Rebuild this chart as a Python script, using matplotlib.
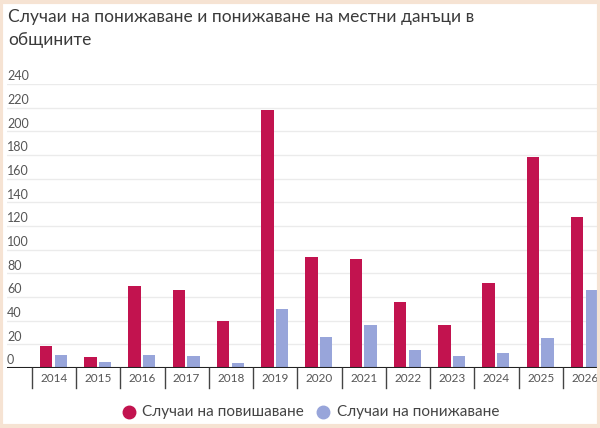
import matplotlib
matplotlib.use("Agg")
import matplotlib.pyplot as plt
from matplotlib.patches import Rectangle
import numpy as np

years = ["2014", "2015", "2016", "2017", "2018", "2019", "2020",
         "2021", "2022", "2023", "2024", "2025", "2026"]
increases = [19, 9, 69, 66, 40, 218, 94, 92, 56, 36, 72, 178, 128]
decreases = [11, 5, 11, 10, 4, 50, 26, 36, 15, 10, 13, 25, 66]
y_ticks = [0, 20, 40, 60, 80, 100, 120, 140, 160, 180, 200, 220, 240]
title_lines = ["Случаи на понижаване и понижаване на местни данъци в",
               "общините"]
label_inc = "Случаи на повишаване"
label_dec = "Случаи на понижаване"

RED = "#C2134F"
BLUE = "#98A5DA"
FONT = ["Lato", "DejaVu Sans"]

W, H = 600, 428
fig = plt.figure(figsize=(W / 100, H / 100), dpi=100)
fig.patch.set_facecolor("white")

# faint peach frame
fig.add_artist(Rectangle((0.002, 0.004), 0.996, 0.992, transform=fig.transFigure,
                         fill=False, edgecolor="#F6E3D3", linewidth=3))

# axes: x from 7px to 607px, y from 368px (0) to 84px (240)
left = 7 / W
width = 600 / W
bottom = (H - 368) / H
height = (368 - 84) / H
ax = fig.add_axes([left, bottom, width, height])
ax.set_facecolor("none")

x = np.arange(len(years))
bw = 0.28
ax.bar(x - 0.175, increases, width=bw, color=RED, zorder=3)
ax.bar(x + 0.155, decreases, width=bw, color=BLUE, zorder=3)

ax.set_xlim(-1.06, len(years) - 0.5)
ax.set_ylim(0, 240)

for t in y_ticks:
    if t > 0:
        ax.axhline(t, color="#EBEBEB", linewidth=1, zorder=1)
    ax.text(0.0, t + 1.5, str(t), transform=ax.get_yaxis_transform(),
            ha="left", va="bottom", fontsize=9, color="#555555",
            family=FONT)

ax.axhline(0, color="#222222", linewidth=1.5, zorder=4)

for s in ax.spines.values():
    s.set_visible(False)
ax.set_yticks([])
ax.set_xticks([])

# category dividers and labels
trans = ax.get_xaxis_transform()
for i in range(len(years) + 1):
    xb = i - 0.5
    ax.plot([xb, xb], [0, -20 / (368 - 84)], transform=trans, color="#444444",
            linewidth=1, clip_on=False, zorder=4)
for i, yr in enumerate(years):
    ax.text(i, -10 / (368 - 84), yr, transform=trans, ha="center", va="center",
            fontsize=8.5, color="#555555", family=FONT)

# title
for line, yc in zip(title_lines, [17, 40]):
    fig.text(8 / W, 1 - yc / H, line, ha="left", va="center", fontsize=12.5,
             color="#3A3A3A", family=FONT)

# legend
ly = 1 - 412 / H
fig.add_artist(plt.Line2D([129 / W], [ly], marker="o", markersize=9,
                          color=RED, linestyle="none", transform=fig.transFigure))
fig.text(142 / W, ly, label_inc, ha="left", va="center", fontsize=11,
         color="#444444", family=FONT)
fig.add_artist(plt.Line2D([323 / W], [ly], marker="o", markersize=9,
                          color=BLUE, linestyle="none", transform=fig.transFigure))
fig.text(337 / W, ly, label_dec, ha="left", va="center", fontsize=11,
         color="#444444", family=FONT)

fig.savefig("out.png", dpi=100)
